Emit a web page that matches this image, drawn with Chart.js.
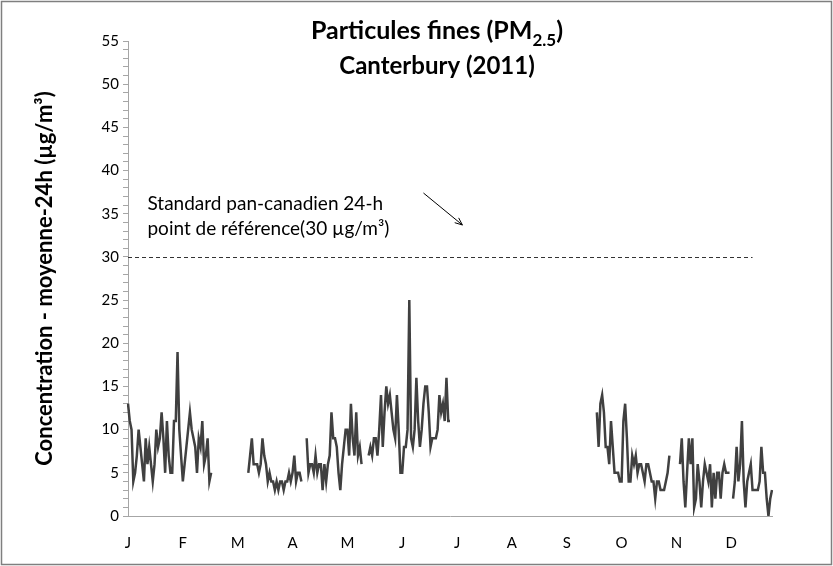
<!DOCTYPE html>
<html>
<head>
<meta charset="utf-8">
<script src="https://cdn.jsdelivr.net/npm/chart.js@4/dist/chart.umd.min.js"></script>
<style>
  html, body { margin: 0; padding: 0; background: #fff; }
  #wrap { width: 833px; height: 566px; }
</style>
</head>
<body>
<div id="wrap"><canvas id="pmChart" width="833" height="566"></canvas></div>
<script>
// Daily 24h mean PM2.5 (µg/m3), Canterbury 2011 - null = no data
const jan = [13, 11, 10, 4, 5, 7, 10, 8, 6, 4, 9, 6, 8, 6, 4, 6, 10, 8, 9, 12, 9, 5, 11, 7, 5, 5, 11, 11, 19, 10, 7];
const feb = [4, 6, 8, 10, 12, 10, 9, 8, 5, 9, 8, 11, 6, 7, 9, 4, 5, null, null, null, null, null, null, null, null, null, null, null];
const mar = [null, null, null, null, null, null, null, null, null, 5, 7, 9, 6, 6, 6, 5, 6, 9, 7, 6, 4, 5, 4, 4, 3, 4, 3, 4, 4, 3, 4];
const apr = [4, 5, 4, 5, 7, 4, 5, 5, 4, null, null, 9, 5, 6, 6, 5, 7, 5, 6, 6, 3, 6, 4, 6, 7, 12, 9, 9, 8, 5];
const may = [3, 6, 8, 10, 10, 7, 13, 9, 7, 12, 7, 8, 6, null, null, null, 7, 8, 7, 9, 9, 7, 10, 14, 8, 12, 15, 13, 14, 12, 10];
const jun = [9, 14, 10, 5, 5, 8, 8, 10, 25, 9, 8, 10, 16, 11, 8, 10, 13, 15, 15, 12, 8, 9, 9, 9, 10, 14, 12, 13, 11, 16];
const jul = [11, 11, null, null, null, null, null, null, null, null, null, null, null, null, null, null, null, null, null, null, null, null, null, null, null, null, null, null, null, null, null];
const aug = [null, null, null, null, null, null, null, null, null, null, null, null, null, null, null, null, null, null, null, null, null, null, null, null, null, null, null, null, null, null, null];
const sep = [null, null, null, null, null, null, null, null, null, null, null, null, null, null, null, null, null, null, null, null, null, null, 12, 8, 13, 14, 12, 8, 8, 6];
const oct = [11, 8, 5, 5, 5, 4, 4, 11, 13, 9, 4, 4, 7, 6, 7, 5, 6, 6, 5, 4, 6, 6, 5, 4, 4, 2, 4, 4, 3, 3, 3];
const nov = [4, 5, 7, null, null, null, null, null, 6, 9, 4, 1, 5, 9, 6, 9, 1, 2, 6, 4, 1, 4, 6, 5, 4, 6, 1, 5, 2, 5];
const dec = [5, 2, 5, 6, 5, 5, 5, null, 2, 4, 8, 4, 6, 11, 4, 1, 4, 5, 6, 3, 3, 3, 3, 4, 8, 5, 5, 2, 0, 2, 3];

const monthLetters = ['J', 'F', 'M', 'A', 'M', 'J', 'J', 'A', 'S', 'O', 'N', 'D'];
const labelEvery = 31;          // one label every 31 days, as in the original
const referenceLevel = 30;      // pan-Canadian 24h standard
const referenceEndDay = 353;    // dashed line stops a bit before the axis end
const noteLines = ['Standard pan-canadien 24-h', 'point de référence(30 µg/m³)'];

const months = [jan, feb, mar, apr, may, jun, jul, aug, sep, oct, nov, dec];
const pm25 = [].concat(...months);
const dayMonth = [];
months.forEach((m, i) => m.forEach(() => dayMonth.push(i)));
const labels = dayMonth.map((m, i) => monthLetters[m] + (i + 1));

const FONT = 'Lato, "Noto Sans", sans-serif';

const decorations = {
    id: 'decorations',
    afterDraw(chart) {
        const ctx = chart.ctx;
        const x = chart.scales.x, y = chart.scales.y;
        ctx.save();

        // dashed reference line at 30
        const yRef = Math.round(y.getPixelForValue(referenceLevel)) + 0.5;
        ctx.strokeStyle = '#333';
        ctx.lineWidth = 1;
        ctx.setLineDash([4, 3]);
        ctx.beginPath();
        ctx.moveTo(chart.chartArea.left, yRef);
        ctx.lineTo(x.getPixelForValue(referenceEndDay), yRef);
        ctx.stroke();
        ctx.setLineDash([]);

        // note text
        ctx.fillStyle = '#000';
        ctx.font = '19px ' + FONT;
        ctx.textAlign = 'left';
        ctx.textBaseline = 'middle';
        ctx.fillText(noteLines[0], x.getPixelForValue(11), y.getPixelForValue(36.1));
        ctx.fillText(noteLines[1], x.getPixelForValue(11), y.getPixelForValue(33.2));

        // arrow
        const ax0 = x.getPixelForValue(167), ay0 = y.getPixelForValue(37.4);
        const ax1 = x.getPixelForValue(189), ay1 = y.getPixelForValue(33.7);
        ctx.strokeStyle = '#000';
        ctx.lineWidth = 1;
        ctx.beginPath();
        ctx.moveTo(ax0, ay0);
        ctx.lineTo(ax1, ay1);
        const ang = Math.atan2(ay1 - ay0, ax1 - ax0);
        ctx.moveTo(ax1, ay1);
        ctx.lineTo(ax1 - 8 * Math.cos(ang - 0.4), ay1 - 8 * Math.sin(ang - 0.4));
        ctx.moveTo(ax1, ay1);
        ctx.lineTo(ax1 - 8 * Math.cos(ang + 0.4), ay1 - 8 * Math.sin(ang + 0.4));
        ctx.stroke();

        // title with subscript
        ctx.fillStyle = '#000';
        ctx.textBaseline = 'alphabetic';
        const cx = 437;
        const big = 'bold 25px ' + FONT, small = 'bold 17px ' + FONT;
        ctx.font = big;
        const p1 = 'Particules fines (PM', p3 = ')';
        const w1 = ctx.measureText(p1).width, w3 = ctx.measureText(p3).width;
        ctx.font = small;
        const w2 = ctx.measureText('2.5').width;
        const tx = cx - (w1 + w2 + w3) / 2;
        ctx.textAlign = 'left';
        ctx.font = big;
        ctx.fillText(p1, tx, 39);
        ctx.font = small;
        ctx.fillText('2.5', tx + w1, 46);
        ctx.font = big;
        ctx.fillText(p3, tx + w1 + w2, 39);
        ctx.textAlign = 'center';
        ctx.font = 'bold 24px ' + FONT;
        ctx.fillText('Canterbury (2011)', cx, 74);

        // outer frame
        ctx.strokeStyle = '#7f7f7f';
        ctx.lineWidth = 1.5;
        ctx.strokeRect(1.5, 1.5, chart.width - 3, chart.height - 3);
        ctx.restore();
    }
};

new Chart(document.getElementById('pmChart'), {
    type: 'line',
    data: {
        labels: labels,
        datasets: [{
            label: 'PM2.5',
            data: pm25,
            borderColor: '#404040',
            borderWidth: 2.5,
            pointRadius: 0,
            tension: 0,
            spanGaps: false
        }]
    },
    options: {
        responsive: false,
        animation: false,
        devicePixelRatio: 1,
        layout: { padding: { top: 41, right: 61, bottom: 0, left: 0 } },
        plugins: {
            legend: { display: false },
            tooltip: { enabled: false }
        },
        scales: {
            x: {
                type: 'category',
                afterFit: s => { s.height = 50; },
                grid: { display: false },
                border: { display: true, color: '#a6a6a6', width: 1 },
                ticks: {
                    autoSkip: false,
                    maxRotation: 0,
                    minRotation: 0,
                    padding: 10,
                    color: '#000',
                    font: { family: FONT, size: 15 },
                    callback: (v, i) => (i % labelEvery === 0 ? monthLetters[dayMonth[i]] : null)
                }
            },
            y: {
                min: 0,
                max: 55,
                afterFit: s => { s.width = 128; },
                grid: { drawOnChartArea: false, drawTicks: true, tickLength: 5, color: '#a6a6a6' },
                border: { display: true, color: '#a6a6a6', width: 1 },
                ticks: {
                    stepSize: 1,
                    autoSkip: false,
                    padding: 4,
                    color: '#000',
                    font: { family: FONT, size: 15 },
                    callback: v => (v % 5 === 0 ? String(v) : '')
                },
                title: {
                    display: true,
                    text: 'Concentration - moyenne-24h (µg/m³)',
                    color: '#000',
                    font: { family: FONT, size: 22, weight: 'bold' },
                    padding: { top: 32, bottom: 0 }
                }
            }
        }
    },
    plugins: [decorations]
});
</script>
</body>
</html>
